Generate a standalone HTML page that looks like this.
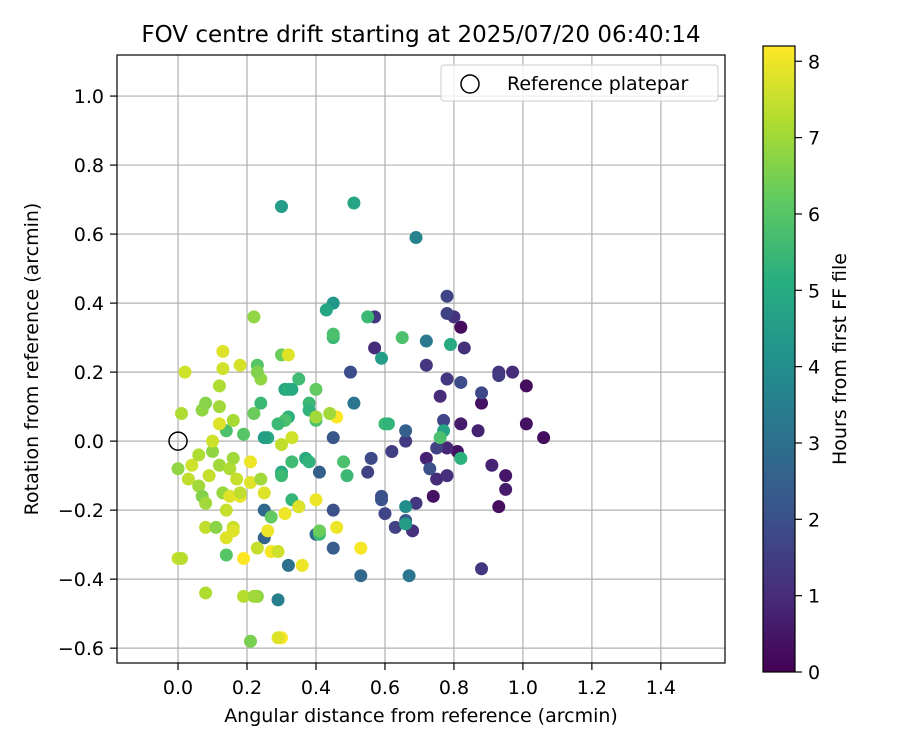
<!DOCTYPE html>
<html><head><meta charset="utf-8">
<style>
body{margin:0;background:#fff;}
svg{display:block;font-family:"DejaVu Sans","Liberation Sans",sans-serif;}
.t{font-size:19px;}
</style></head>
<body>
<svg id="chart" width="900" height="750" xmlns="http://www.w3.org/2000/svg">
<defs>
<linearGradient id="vir" x1="0" y1="1" x2="0" y2="0">
<stop offset="0" stop-color="#440154"/><stop offset="0.125" stop-color="#472d7b"/><stop offset="0.25" stop-color="#3b528b"/><stop offset="0.375" stop-color="#2c728e"/><stop offset="0.5" stop-color="#21918c"/><stop offset="0.625" stop-color="#28ae80"/><stop offset="0.75" stop-color="#5ec962"/><stop offset="0.875" stop-color="#addc30"/><stop offset="1" stop-color="#fde725"/>
</linearGradient>
<clipPath id="clip"><rect x="117" y="55" width="608" height="608"/></clipPath>
</defs>
<text x="421" y="42" style="font-size:23px" text-anchor="middle">FOV centre drift starting at 2025/07/20 06:40:14</text>
<g id="grid"></g>
<g id="pts" clip-path="url(#clip)"></g>
<rect x="117" y="55" width="608" height="608" fill="none" stroke="#000" stroke-width="1.2"/>
<g id="ticks"></g>
<text class="t" x="421" y="722" text-anchor="middle">Angular distance from reference (arcmin)</text>
<text class="t" transform="translate(38,359) rotate(-90)" text-anchor="middle">Rotation from reference (arcmin)</text>
<g>
<rect x="441" y="65" width="277" height="36" rx="3" fill="#fff" fill-opacity="0.8" stroke="#ccc"/>
<circle cx="470" cy="84" r="9" fill="none" stroke="#000" stroke-width="1.5"/>
<text class="t" x="507" y="90">Reference platepar</text>
</g>
<rect x="763" y="46" width="32" height="626" fill="url(#vir)" stroke="#000" stroke-width="1.2"/>
<g id="cbticks"></g>
<text class="t" transform="translate(846,359) rotate(-90)" text-anchor="middle">Hours from first FF file</text>
</svg>
<script>
const xTicks=[0.0,0.2,0.4,0.6,0.8,1.0,1.2,1.4];
const yTicks=[-0.6,-0.4,-0.2,0.0,0.2,0.4,0.6,0.8,1.0];
const cbTicks=[0,1,2,3,4,5,6,7,8];
const xs=[0.82,1.01,1.06,1.01,0.93,0.95,0.95,0.91,0.88,0.88,0.87,0.82,0.81,0.74,0.72,0.75,0.76,0.80,0.83,0.78,0.78,0.78,0.82,0.88,0.93,0.93,0.97,0.72,0.77,0.78,0.78,0.75,0.73,0.69,0.68,0.66,0.62,0.63,0.60,0.59,0.59,0.56,0.55,0.57,0.57,0.50,0.45,0.66,0.66,0.72,0.69,0.67,0.53,0.45,0.45,0.41,0.40,0.51,0.25,0.25,0.32,0.29,
0.30,0.51,0.45,0.43,0.55,0.65,0.59,0.79,0.82,0.77,0.76,0.60,0.61,0.66,0.66,0.45,0.45,0.48,0.49,0.37,0.38,0.38,0.38,0.40,0.40,0.35,0.31,0.32,0.33,0.30,0.32,0.31,0.29,0.26,0.25,0.30,0.30,0.33,0.33,0.35,0.24,0.22,0.19,0.27,0.41,0.41,0.14,0.23,0.22,0.18,0.14,0.21,0.23,0.24,0.23,
0.00,0.01,0.01,0.02,0.00,0.03,0.04,0.06,0.07,0.07,0.08,0.06,0.08,0.08,0.08,0.09,0.10,0.10,0.11,0.12,0.12,0.12,0.13,0.13,0.12,0.13,0.14,0.14,0.15,0.15,0.16,0.16,0.16,0.16,0.17,0.18,0.18,0.18,0.19,0.19,0.21,0.21,0.23,0.24,0.25,0.26,0.27,0.29,0.30,0.29,0.30,0.31,0.32,0.33,0.36,0.35,0.40,0.44,0.46,0.46,0.53,0.22,0.44,0.40];
const ys=[0.33,0.16,0.01,0.05,-0.19,-0.10,-0.14,-0.07,-0.37,0.11,0.03,0.05,-0.03,-0.16,-0.05,-0.11,0.13,0.36,0.27,0.42,0.37,0.18,0.17,0.14,0.20,0.19,0.20,0.22,0.06,-0.02,-0.10,-0.02,-0.08,-0.18,-0.26,0.00,-0.03,-0.25,-0.21,-0.16,-0.17,-0.05,-0.09,0.36,0.27,0.20,0.01,-0.23,0.03,0.29,0.59,-0.39,-0.39,-0.31,-0.20,-0.09,-0.27,0.11,-0.28,-0.20,-0.36,-0.46,
0.68,0.69,0.40,0.38,0.36,0.30,0.24,0.28,-0.05,0.03,0.01,0.05,0.05,-0.19,-0.24,0.30,0.31,-0.06,-0.10,-0.05,-0.06,0.11,0.09,0.06,0.15,0.18,0.15,0.15,0.15,0.25,0.07,0.06,0.05,0.01,0.01,-0.09,-0.10,-0.06,-0.17,-0.19,0.11,0.08,0.02,-0.22,-0.27,-0.26,0.03,0.22,0.36,-0.16,-0.33,-0.58,-0.45,0.18,0.20,
-0.34,-0.34,0.08,0.20,-0.08,-0.11,-0.07,-0.13,-0.16,0.09,0.11,-0.04,-0.18,-0.25,-0.44,-0.10,-0.03,0.00,-0.25,0.10,0.16,0.05,0.21,0.26,-0.07,-0.15,-0.20,-0.28,-0.08,-0.16,-0.05,0.06,-0.25,-0.26,-0.11,-0.16,-0.15,0.22,-0.45,-0.34,-0.06,-0.12,-0.31,-0.11,-0.15,-0.26,-0.32,-0.32,-0.57,-0.57,-0.01,-0.21,0.25,0.01,-0.36,-0.19,-0.17,0.08,0.07,-0.25,-0.31,-0.45,0.08,0.07];
const hours=[0.2,0.3,0.3,0.4,0.3,0.5,0.6,0.8,1.3,0.4,0.8,0.6,0.4,0.4,0.8,1.0,1.0,1.2,1.1,1.7,1.6,1.3,1.9,1.8,1.2,1.4,1.0,1.3,1.7,0.9,1.1,1.6,2.0,1.3,1.1,1.4,1.5,1.6,1.7,2.0,2.1,1.8,1.6,1.3,1.0,1.9,2.2,2.3,2.5,3.3,3.6,3.2,2.8,2.4,2.0,2.5,2.8,3.2,2.6,2.8,3.0,3.5,
4.5,4.8,4.3,4.8,5.5,5.8,4.5,5.0,5.2,4.8,5.8,5.5,5.3,4.0,4.5,5.5,5.8,5.8,5.5,5.0,5.3,5.5,5.3,5.8,6.2,5.6,4.8,5.2,5.0,6.3,5.2,5.8,5.5,5.0,4.6,5.0,5.5,5.6,5.4,5.8,5.5,6.3,6.0,6.2,5.5,6.3,5.8,6.0,6.8,5.8,6.0,6.5,6.8,6.8,6.6,
7.5,7.3,7.2,7.6,6.8,7.4,7.6,7.0,6.6,6.8,6.7,7.2,7.0,7.4,7.2,7.5,6.8,7.6,6.7,7.0,7.2,7.8,7.6,7.8,7.0,6.9,7.5,7.8,7.2,7.8,7.0,7.1,7.5,7.8,7.5,8.0,7.4,7.7,7.3,8.2,8.0,7.8,7.5,7.0,7.8,8.0,8.1,7.6,8.2,7.8,7.4,8.0,7.8,7.6,8.0,7.8,8.0,8.1,8.2,8.0,8.1,7.0,7.0,7.0];

const X0=117,X1=725,XMIN=-0.177,XMAX=1.586;
const Y0=663,Y1=55,YMIN=-0.643,YMAX=1.119;
const CB0=672,CB1=46,CMAX=8.2;
const sx=v=>X0+(v-XMIN)/(XMAX-XMIN)*(X1-X0);
const sy=v=>Y0-(v-YMIN)/(YMAX-YMIN)*(Y0-Y1);
const sc=v=>CB0-(v/CMAX)*(CB0-CB1);
const NS="http://www.w3.org/2000/svg";
const stops=[[68,1,84],[71,45,123],[59,82,139],[44,114,142],[33,145,140],[40,174,128],[94,201,98],[173,220,48],[253,231,37]];
function viridis(t){t=Math.max(0,Math.min(1,t));const f=t*8,i=Math.min(7,Math.floor(f)),r=f-i;const a=stops[i],b=stops[i+1];return `rgb(${a.map((c,k)=>Math.round(c+(b[k]-c)*r)).join(',')})`;}
function mk(tag,attrs,parent){const e=document.createElementNS(NS,tag);for(const k in attrs)e.setAttribute(k,attrs[k]);parent.appendChild(e);return e;}
const fmt=v=>(v<0?'\u2212':'')+Math.abs(v).toFixed(1);
const grid=document.getElementById('grid'),ticks=document.getElementById('ticks'),pts=document.getElementById('pts'),cbt=document.getElementById('cbticks');
xTicks.forEach(v=>{const x=sx(v);
 const g=mk('line',{x1:x,x2:x,y1:Y1,y2:Y0,stroke:'#b0b0b0','stroke-width':1.2},grid);
 
 
 mk('line',{x1:x,x2:x,y1:Y0,y2:Y0+7,stroke:'#000','stroke-width':1.2},ticks);
 const t=mk('text',{x:x,y:694,'class':'t','text-anchor':'middle'},ticks);t.textContent=fmt(v);
 
 });
yTicks.forEach(v=>{const y=sy(v);
 const g=mk('line',{x1:X0,x2:X1,y1:y,y2:y,stroke:'#b0b0b0','stroke-width':1.2},grid);
 
 
 mk('line',{x1:X0-7,x2:X0,y1:y,y2:y,stroke:'#000','stroke-width':1.2},ticks);
 const t=mk('text',{x:X0-13,y:y+7,'class':'t','text-anchor':'end'},ticks);t.textContent=fmt(v);
 
 });
cbTicks.forEach(v=>{const y=sc(v);
 mk('line',{x1:795,x2:802,y1:y,y2:y,stroke:'#000','stroke-width':1.2},cbt);
 const t=mk('text',{x:808,y:y+7,'class':'t'},cbt);t.textContent=String(v);
 
 });
xs.forEach((v,i)=>{const c=mk('circle',{cx:sx(v),cy:sy(ys[i]),r:6.5,fill:viridis(hours[i]/CMAX)},pts);
 
 });
const ref=mk('circle',{cx:sx(0),cy:sy(0),r:9,fill:'none',stroke:'#000','stroke-width':1.5},pts);


</script>
</body></html>
